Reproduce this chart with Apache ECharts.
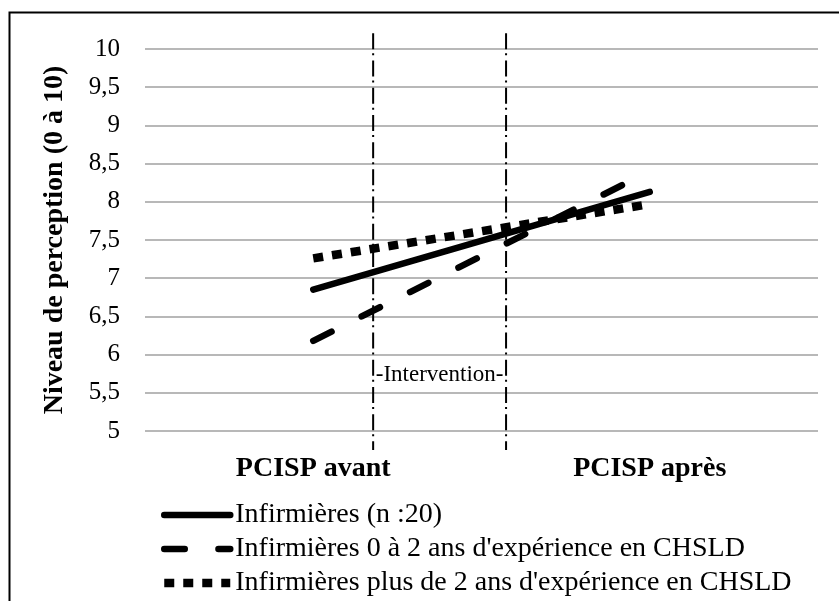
<!DOCTYPE html>
<html>
<head>
<meta charset="utf-8">
<style>
  html, body { margin: 0; padding: 0; background: #fff; }
  #chart { width: 839px; height: 601px; }
</style>
<script src="https://cdn.jsdelivr.net/npm/echarts@6/dist/echarts.min.js"></script>
</head>
<body>
<div id="chart"></div>
<script>
// données
const categories = ['PCISP avant', 'PCISP après'];
const seriesNames = [
  'Infirmières (n :20)',
  "Infirmières 0 à 2 ans d'expérience en CHSLD",
  "Infirmières plus de 2 ans d'expérience en CHSLD"
];
const infirmieres = [6.85, 8.13];
const infirmieres0a2 = [6.18, 8.40];
const infirmieresPlus2 = [7.26, 7.97];
const yMin = 5;
const yMax = 10;
const yStep = 0.5;
// lignes d'intervention, en largeur de catégorie (0 à 2)
const interventionX = [0.678, 1.073];
const interventionY = [10.205, 4.75];
const interventionLabel = '-Intervention-';

const font = 'Liberation Serif, Times New Roman, serif';

const chart = echarts.init(document.getElementById('chart'));

const interventionSeries = interventionX.map(function (x) {
  return {
    type: 'line',
    xAxisIndex: 1,
    clip: false,
    silent: true,
    symbol: 'none',
    lineStyle: { color: '#000', width: 2, type: [16, 4, 2, 5.2] },
    data: interventionY.map(function (y) { return [x, y]; })
  };
});

chart.setOption({
  animation: false,
  graphic: [
    {
      type: 'rect',
      shape: { x: 9.5, y: 12.5, width: 1000, height: 1000 },
      style: { fill: 'none', stroke: '#000', lineWidth: 2 }
    }
  ],
  grid: { left: 145, right: 21, top: 49, bottom: 170 },
  legend: {
    orient: 'vertical',
    left: 160,
    top: 500,
    padding: 0,
    itemWidth: 66,
    itemHeight: 14,
    itemGap: 4,
    data: seriesNames,
    itemStyle: { opacity: 0 },
    lineStyle: { width: 'inherit' },
    textStyle: { fontFamily: font, fontSize: 28, color: '#000', lineHeight: 30 }
  },
  xAxis: [
    {
      type: 'category',
      data: categories,
      axisLine: { show: false },
      axisTick: { show: false },
      axisLabel: { fontFamily: font, fontSize: 28, fontWeight: 'bold', color: '#000', margin: 24 }
    },
    { type: 'value', min: 0, max: 2, show: false }
  ],
  yAxis: {
    type: 'value',
    min: yMin,
    max: yMax,
    interval: yStep,
    name: 'Niveau de perception (0 à 10)',
    nameLocation: 'middle',
    nameGap: 76,
    nameTextStyle: { fontFamily: font, fontSize: 28, fontWeight: 'bold', color: '#000' },
    axisLine: { show: false },
    axisTick: { show: false },
    axisLabel: {
      fontFamily: font,
      fontSize: 25,
      color: '#000',
      margin: 25,
      formatter: function (v) { return String(v).replace('.', ','); }
    },
    splitLine: { lineStyle: { color: '#a0a0a0', width: 1.5 } }
  },
  series: [
    {
      name: seriesNames[0],
      type: 'line',
      symbol: 'none',
      itemStyle: { color: '#000' },
      lineStyle: { color: '#000', width: 6.5, cap: 'round' },
      data: infirmieres
    },
    {
      name: seriesNames[1],
      type: 'line',
      symbol: 'none',
      itemStyle: { color: '#000' },
      lineStyle: { color: '#000', width: 6.5, cap: 'round', type: [20.5, 33.7] },
      data: infirmieres0a2
    },
    {
      name: seriesNames[2],
      type: 'line',
      symbol: 'none',
      itemStyle: { color: '#000' },
      lineStyle: { color: '#000', width: 8.5, cap: 'butt', type: [10, 9] },
      data: infirmieresPlus2
    }
  ].concat(interventionSeries, [
    {
      type: 'scatter',
      xAxisIndex: 1,
      silent: true,
      symbolSize: 0,
      itemStyle: { opacity: 1, color: '#000' },
      label: {
        show: true,
        position: 'inside',
        formatter: interventionLabel,
        fontFamily: font,
        fontSize: 23,
        color: '#000'
      },
      data: [[(interventionX[0] + interventionX[1]) / 2, 5.73]]
    }
  ])
});
</script>
</body>
</html>
